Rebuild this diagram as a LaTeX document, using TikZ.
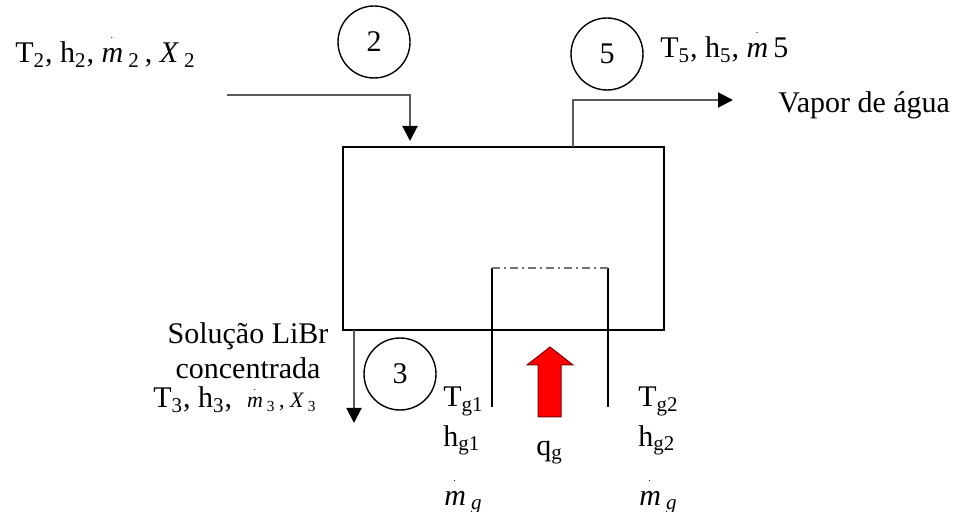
\documentclass[tikz,border=0pt]{standalone}
\usepackage{fontspec}
\setmainfont{Liberation Serif}
\usetikzlibrary{arrows.meta}
\newcommand{\mdot}{\mbox{\textit{m}\llap{\makebox[0.76em]{\raisebox{0.8em}{\tiny .}}}}}
\tikzset{
  flow/.style={draw=black!65, line width=1pt, -{Triangle[length=7.5pt,width=7.5pt,color=black]}},
  stn/.style={draw, circle, line width=0.7pt, minimum size=36pt, inner sep=0pt},
  tube/.style={line width=0.8pt},
  lab/.style={anchor=base west, inner sep=0pt}
}
\begin{document}
\begin{tikzpicture}[x=0.5pt,y=-0.5pt,font=\fontsize{15}{17}\selectfont]
  \useasboundingbox (0,0) rectangle (962,512);
  \node[draw, line width=0.8pt, minimum width=160.5pt, minimum height=91.5pt, inner sep=0pt] (gen) at (503.5,238.5) {};
  \node[stn] (s2) at (374,42) {2};
  \node[stn] (s5) at (607,54) {5};
  \node[stn] (s3) at (400,374) {3};
  \coordinate (in2) at (227,95);
  \coordinate (p2) at (410,141);
  \coordinate (p5) at (573,147);
  \coordinate (out5) at (733,100);
  \coordinate (p3) at (354,330);
  \coordinate (out3) at (354,423);
  \draw[flow] (in2) -| (p2);
  \draw[flow] (p5) |- (out5);
  \draw[flow] (p3) -- (out3);
  \coordinate (t1) at (492,407);
  \coordinate (t1top) at (492,268);
  \coordinate (t2top) at (608,268);
  \coordinate (t2) at (608,407);
  \draw[tube] (t1) -- (t1top);
  \draw[tube] (t2top) -- (t2);
  \draw[black!55, line width=0.8pt, dash pattern=on 4pt off 2pt on 1pt off 2pt] (t1top) -- (t2top);
  \fill[red, draw=red!50!black, line width=0.5pt] (538,417) -- (538,365) -- (527,365) -- (550,347)
    -- (573,365) -- (561,365) -- (561,417) -- cycle;
  \node[lab] (l2) at (15,63) {T\textsubscript{2}, h\textsubscript{2}, \mdot\,\textsubscript{2}\,, \textit{X}\,\textsubscript{2}};
  \node[lab] (l5) at (660,58) {T\textsubscript{5}, h\textsubscript{5}, \mdot\,5};
  \node[lab] (vap) at (778,113) {Vapor de água};
  \node[anchor=base, inner sep=0pt] (sol1) at (248,344) {Solução LiBr};
  \node[anchor=base, inner sep=0pt] (sol2) at (248,379) {concentrada};
  \node[lab] (l3) at (153,408) {T\textsubscript{3}, h\textsubscript{3}, \ {\fontsize{11}{13}\selectfont\mdot\,\textsubscript{3}\,,\ \textit{X}\,\textsubscript{3}}};
  \foreach \x/\k in {443/1, 638/2} {
    \node[lab] (tg\k) at (\x,407) {T\textsubscript{g\k}};
    \node[lab] (hg\k) at (\x,446) {h\textsubscript{g\k}};
    \node[lab] (mg\k) at (\x+1,505) {\mdot\,\textsubscript{\textit{g}}};
  }
  \node[lab] (qg) at (536,455) {q\textsubscript{g}};
\end{tikzpicture}
\end{document}
